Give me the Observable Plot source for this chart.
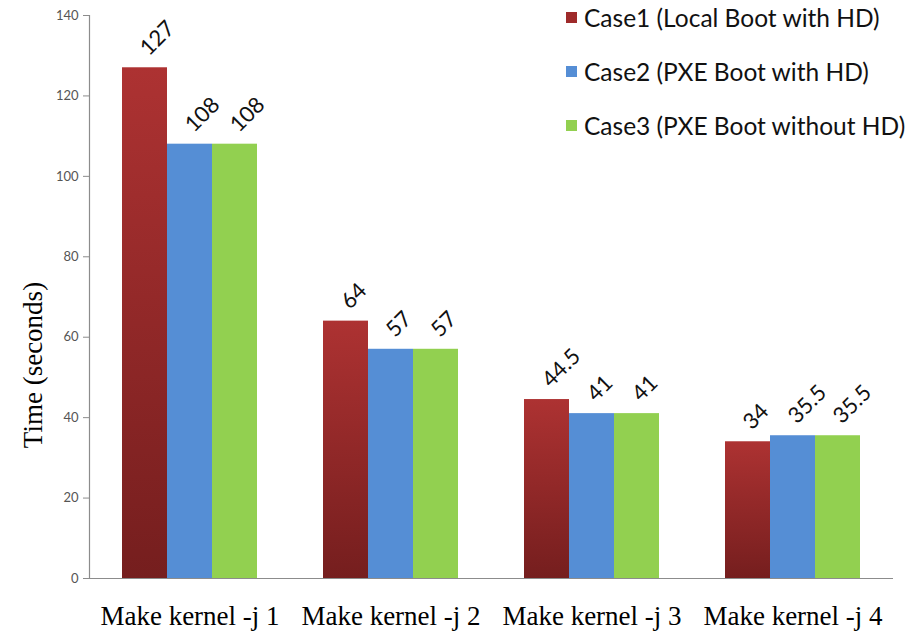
<!DOCTYPE html>
<html><head><meta charset="utf-8">
<script src="https://cdn.jsdelivr.net/npm/d3@7"></script>
<script src="https://cdn.jsdelivr.net/npm/@observablehq/plot@0.6"></script>
<style>
body{margin:0;background:#fff;}
#wrap{position:relative;width:905px;height:632px;overflow:hidden;}
#ytitle{position:absolute;left:33px;top:365px;transform:translate(-50%,-50%) rotate(-90deg);font-family:"Liberation Serif";font-size:27px;white-space:nowrap;color:#000;}
#legend{position:absolute;left:566px;top:0;font-family:Lato;font-size:24.5px;color:#111;}
.row{position:absolute;left:0;white-space:nowrap;display:flex;align-items:center;height:24px;}
.sw{width:11px;height:11px;margin-right:7px;flex:none;}
</style>
</head><body>
<div id="wrap"><div id="ytitle">Time (seconds)</div><div id="legend"></div></div>
<script>
const categories = ["Make kernel -j 1", "Make kernel -j 2", "Make kernel -j 3", "Make kernel -j 4"];
const seriesNames = ["Case1 (Local Boot with HD)", "Case2 (PXE Boot with HD)", "Case3 (PXE Boot without HD)"];
const case1 = [127, 64, 44.5, 34];
const case2 = [108, 57, 41, 35.5];
const case3 = [108, 57, 41, 35.5];
const yTicks = [0, 20, 40, 60, 80, 100, 120, 140];
const seriesColors = ["url(#redGrad)", "#558ED5", "#92D050"];
const legendSwatch = ["#9E2A2A", "#558ED5", "#92D050"];

const seriesValues = [case1, case2, case3];
const rows = [];
categories.forEach((c, i) => seriesNames.forEach((s, j) => rows.push({category: c, series: s, value: seriesValues[j][i]})));

const chart = Plot.plot({
  width: 905, height: 632,
  marginTop: 15, marginBottom: 54, marginLeft: 89, marginRight: 12,
  fx: {domain: categories, padding: 0, label: null},
  x: {domain: seriesNames, paddingInner: 0, paddingOuter: 0.733, axis: null},
  y: {domain: [0, 140], label: null},
  color: {domain: seriesNames, range: seriesColors},
  style: {background: "white", overflow: "visible"},
  marks: [
    Plot.barY(rows, {fx: "category", x: "series", y: "value", fill: "series"}),
    Plot.ruleY([0], {stroke: "#8c8c8c", strokeWidth: 1.2}),
    Plot.frame({anchor: "left", facetAnchor: "left", stroke: "#8c8c8c", strokeWidth: 1.2}),
    Plot.text(rows, {fx: "category", x: "series", y: "value", text: d => String(d.value), rotate: -45, textAnchor: "start", lineAnchor: "bottom", dx: 4, dy: -11, fontSize: 22, fontFamily: "Lato", fill: "#111"}),
    Plot.axisY({ticks: yTicks, tickSize: 6, tickPadding: 5, fontSize: 13, fontFamily: "Lato", color: "#555", stroke: "#8c8c8c", label: null}),
    Plot.axisFx({anchor: "bottom", tickSize: 0, tickPadding: 27, fontSize: 27, fontFamily: "Liberation Serif", fill: "#000", label: null})
  ]
});

const defs = d3.select(chart).insert("defs", ":first-child");
const g = defs.append("linearGradient").attr("id", "redGrad").attr("x1", 0).attr("y1", 0).attr("x2", 0).attr("y2", 1);
g.append("stop").attr("offset", "0%").attr("stop-color", "#AD3232");
g.append("stop").attr("offset", "100%").attr("stop-color", "#751E1E");

document.getElementById("wrap").prepend(chart);

const legend = d3.select("#legend");
seriesNames.forEach((s, i) => {
  const r = legend.append("div").attr("class", "row").style("top", (5 + i * 54) + "px");
  r.append("div").attr("class", "sw").style("background", legendSwatch[i]);
  r.append("span").text(s);
});
</script>
</body></html>
